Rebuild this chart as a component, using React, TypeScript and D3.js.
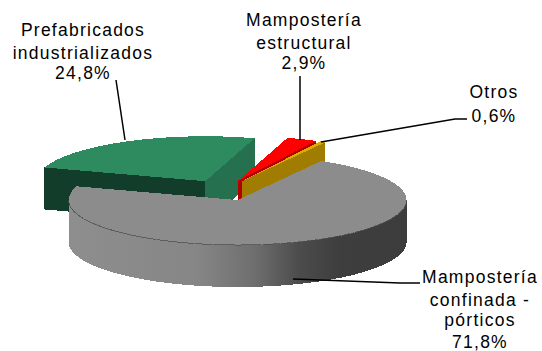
import React from 'react';
import * as d3 from 'd3';

const categories = ['Mampostería estructural', 'Otros', 'Mampostería confinada - pórticos', 'Prefabricados industrializados'];
const shares = [2.9, 0.6, 71.8, 24.8];
const topColors = ['#ff0000', '#dcaa00', '#8c8c8c', '#2e8b5f'];
const startWalls = ['#a00000', '#a07c00', '#6a6a6a', '#133d2b'];
const endWalls = ['#b00000', '#a07c00', '#6a6a6a', '#24704f'];

// label text, one array per line, same order as categories
const labelLines = [
  ['Mampostería', 'estructural', '2,9%'],
  ['Otros', '0,6%'],
  ['Mampostería', 'confinada -', 'pórticos', '71,8%'],
  ['Prefabricados', 'industrializados', '24,8%'],
];
const labelX = [304, 494, 480, 83];
const labelBaselines = [
  [26, 49, 69],
  [98, 122],
  [283, 306, 326, 348],
  [36, 59, 79],
];
const leaders = [
  [[300, 76], [300, 140]],
  [[467, 119], [455, 119], [321, 142]],
  [[420, 283], [400, 283], [293, 279]],
  [[116, 80], [125, 140]],
];

const width = 542;
const height = 351;
const cx = 223.4;
const cy = 190.4;
const rx = 169;
const squash = 0.266;
const depth = 42;
const explode = 39;
const deg = Math.PI / 180;

const App = () => {
  const pie = d3.pie<number>().sort(null).startAngle(17 * deg).endAngle(377 * deg);
  const slices = pie(shares);
  const arc = d3.arc<d3.PieArcDatum<number>>().innerRadius(0).outerRadius(rx);
  const line = d3.line();

  const center = (s: d3.PieArcDatum<number>) => {
    const mid = (s.startAngle + s.endAngle) / 2;
    return [cx + explode * Math.sin(mid), cy - explode * Math.cos(mid) * squash];
  };
  const rim = (c: number[], a: number): [number, number] => [
    c[0] + rx * Math.sin(a),
    c[1] - rx * Math.cos(a) * squash,
  ];

  const cutWall = (c: number[], a: number) => {
    const p = rim(c, a);
    return line([[c[0], c[1]], p, [p[0], p[1] + depth], [c[0], c[1] + depth]])!;
  };

  const rimAngles = (s: d3.PieArcDatum<number>) => {
    const from = Math.max(s.startAngle, 90 * deg);
    const to = Math.min(s.endAngle, 270 * deg);
    if (from >= to) return null;
    return d3.range(from, to, 1 * deg).concat(to);
  };

  const rimWall = (s: d3.PieArcDatum<number>) => {
    const angles = rimAngles(s);
    if (!angles) return null;
    const c = center(s);
    const upper = angles.map((a) => rim(c, a));
    const lower = upper.map((p) => [p[0], p[1] + depth] as [number, number]).reverse();
    return line(upper.concat(lower))!;
  };

  const rimEdge = (s: d3.PieArcDatum<number>) => {
    const angles = rimAngles(s);
    if (!angles) return null;
    const c = center(s);
    return line(angles.map((a) => rim(c, a)))!;
  };

  // gray goes last, it sits in front of the others
  const order = [3, 0, 1, 2];

  return (
    <svg width={width} height={height} style={{ position: 'absolute', left: 0, top: 0 }}>
      <defs>
        <linearGradient id="wallShade" gradientUnits="userSpaceOnUse" x1={69} x2={407} y1={0} y2={0}>
          <stop offset="0%" stopColor="#8e8e8e" />
          <stop offset="38%" stopColor="#868686" />
          <stop offset="55%" stopColor="#6e6e6e" />
          <stop offset="68%" stopColor="#4c4c4c" />
          <stop offset="80%" stopColor="#3e3e3e" />
          <stop offset="100%" stopColor="#3c3c3c" />
        </linearGradient>
      </defs>

      {order.map((i) => {
        const s = slices[i];
        const c = center(s);
        const wall = rimWall(s);
        const edge = rimEdge(s);
        const startVisible = Math.cos(s.startAngle - 90 * deg) < 0;
        const endVisible = Math.cos(s.endAngle + 90 * deg) < 0;
        return (
          <g key={categories[i]} shapeRendering="crispEdges">
            {startVisible && <path d={cutWall(c, s.startAngle)} fill={startWalls[i]} />}
            {endVisible && <path d={cutWall(c, s.endAngle)} fill={endWalls[i]} />}
            {wall && <path d={wall} fill="url(#wallShade)" />}
            <path
              d={arc(s)!}
              transform={`translate(${c[0]},${c[1]}) scale(1,${squash})`}
              fill={topColors[i]}
            />
            {edge && <path d={edge} fill="none" stroke="#4a4a4a" strokeWidth={1} opacity={0.7} />}
          </g>
        );
      })}

      {leaders.map((l, i) => (
        <path key={i} d={line(l as [number, number][])!} fill="none" stroke="#000" strokeWidth={1.5} />
      ))}

      {labelLines.map((lines, i) =>
        lines.map((t, j) => (
          <text
            key={`${i}-${j}`}
            x={labelX[i]}
            y={labelBaselines[i][j]}
            textAnchor="middle"
            fontFamily="Liberation Sans, Arial, sans-serif"
            fontSize={17.5}
            letterSpacing={1.25}
            fill="#000"
          >
            {t}
          </text>
        )),
      )}
    </svg>
  );
};

export default App;
